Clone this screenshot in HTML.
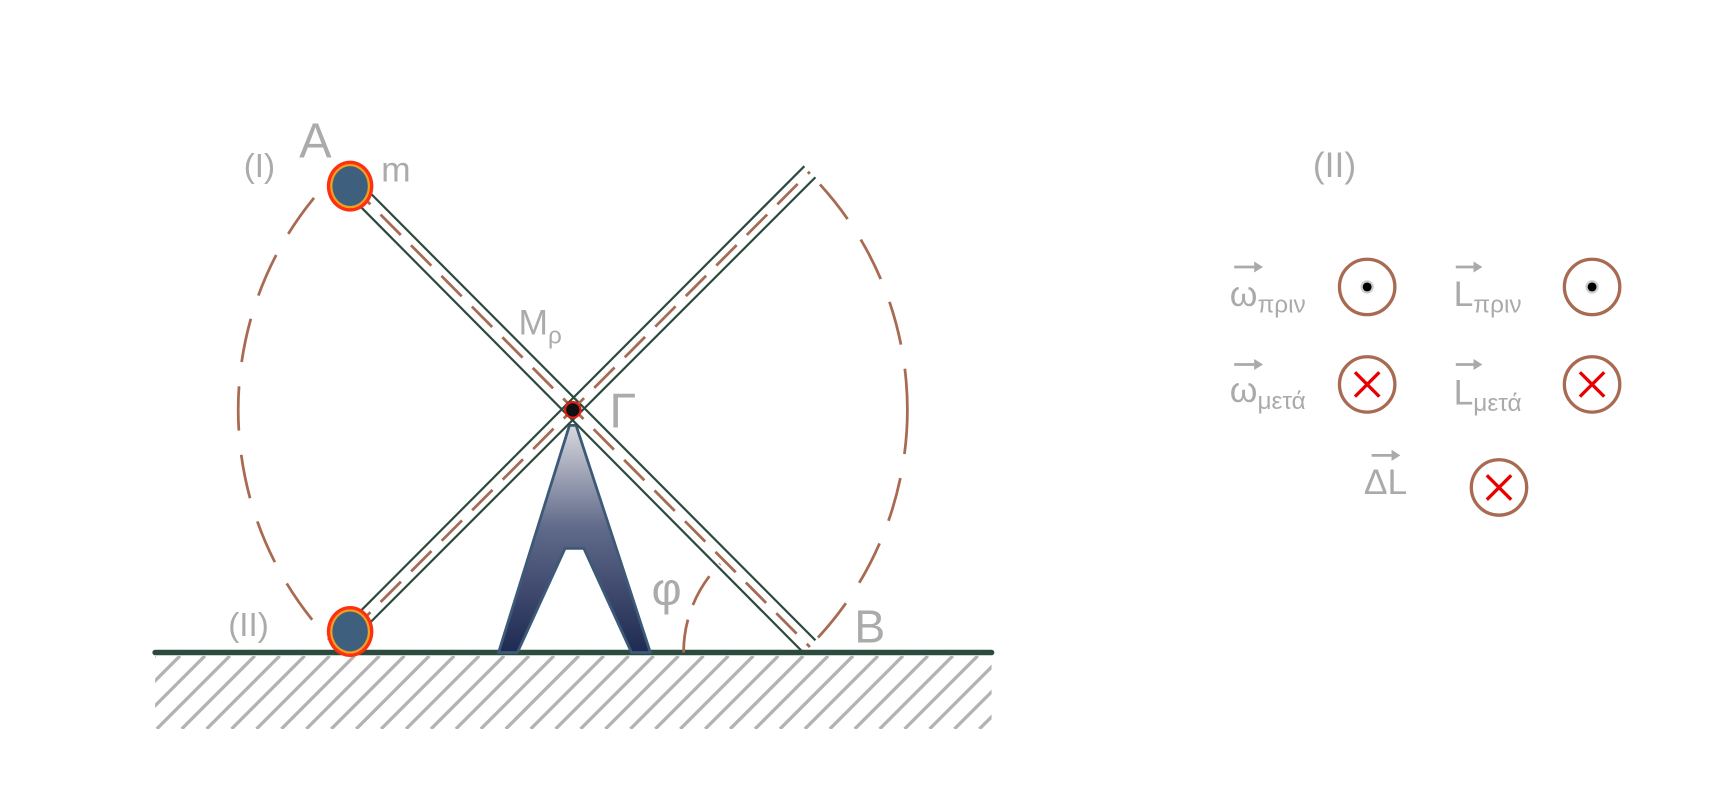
<!DOCTYPE html>
<html><head><meta charset="utf-8"><style>
html,body{margin:0;padding:0;background:#fff;}
svg{display:block;font-family:"Liberation Sans Narrow","Liberation Sans",sans-serif;}
.lbl{fill:#ababab;}
</style></head><body>
<svg width="1735" height="795" viewBox="0 0 1566 717.6" preserveAspectRatio="none" xmlns="http://www.w3.org/2000/svg">
<defs>
<linearGradient id="sg" x1="0" y1="0" x2="0" y2="1">
<stop offset="0" stop-color="#d8d8de"/><stop offset="0.45" stop-color="#606a8a"/><stop offset="1" stop-color="#1f2a52"/>
</linearGradient>
<clipPath id="hc"><rect x="140" y="592" width="755" height="66"/></clipPath>
<clipPath id="lc"><rect x="0" y="0" width="303" height="717"/><rect x="730" y="0" width="300" height="717"/></clipPath>
</defs>

<g clip-path="url(#hc)" stroke="#b3b3b3" stroke-width="3">
<g id="hatch"></g>
</g>
<line x1="140" y1="589" x2="895" y2="589" stroke="#2d4a3e" stroke-width="5" stroke-linecap="round"/>

<circle cx="517" cy="370" r="302" fill="none" stroke="#a86a52" stroke-width="2.5" stroke-dasharray="40 22" clip-path="url(#lc)"/>

<path d="M617 589 A113 113 0 0 1 650 509" fill="none" stroke="#a86a52" stroke-width="2.5" stroke-dasharray="30 14"/>

<path d="M514 384 L520 384 L587 589 L570 589 L527 495 L510 495 L467 589 L450 589 Z" fill="url(#sg)" stroke="#3c5a78" stroke-width="2.5"/>

<g fill="none">
<line x1="320" y1="160" x2="736" y2="578" stroke="#2d4a3e" stroke-width="2"/>
<line x1="311" y1="172" x2="726" y2="590" stroke="#2d4a3e" stroke-width="2"/>
<line x1="316" y1="166" x2="731" y2="584" stroke="#a86a52" stroke-width="2.5" stroke-dasharray="26 13"/>
</g>
<g fill="none">
<line x1="311" y1="566" x2="726" y2="150" stroke="#2d4a3e" stroke-width="2"/>
<line x1="320" y1="576" x2="736" y2="160" stroke="#2d4a3e" stroke-width="2"/>
<line x1="316" y1="571" x2="731" y2="155" stroke="#a86a52" stroke-width="2.5" stroke-dasharray="26 13"/>
</g>
<circle cx="517" cy="370" r="7" fill="#111" stroke="#e02010" stroke-width="2"/>

<g>
<ellipse cx="316" cy="168" rx="21" ry="23" fill="#ff3010"/><ellipse cx="316" cy="168" rx="18" ry="20" fill="#f0a020"/><ellipse cx="316" cy="168" rx="16" ry="18" fill="#3f5f7f"/>
</g>
<g>
<ellipse cx="316" cy="570" rx="21" ry="23" fill="#ff3010"/><ellipse cx="316" cy="570" rx="18" ry="20" fill="#f0a020"/><ellipse cx="316" cy="570" rx="16" ry="18" fill="#3f5f7f"/>
</g>

<text class="lbl" x="270" y="142" font-size="44">A</text>
<text class="lbl" x="344" y="164" font-size="32">m</text>
<text class="lbl" x="220" y="160" font-size="30">(I)</text>
<text class="lbl" x="206" y="574" font-size="30">(II)</text>
<text class="lbl" x="468" y="302" font-size="32">M<tspan font-size="22" dy="8">ρ</tspan></text>
<text class="lbl" x="550" y="386" font-size="44">Γ</text>
<text class="lbl" x="588" y="546" font-size="42">φ</text>
<text class="lbl" x="771" y="580" font-size="42">B</text>
<text class="lbl" x="1185" y="160" font-size="32">(II)</text>

<g stroke="#aaa" stroke-width="2.5" fill="#aaa">
<g>
<line x1="1114" y1="241" x2="1132" y2="241"/><path d="M1132 236 L1140 241 L1132 246Z" stroke="none"/>
<text x="1110" y="276" font-size="32" stroke="none">ω<tspan font-size="22" dy="6">πριν</tspan></text></g>
<g>
<line x1="1314" y1="241" x2="1330" y2="241"/><path d="M1330 236 L1338 241 L1330 246Z" stroke="none"/>
<text x="1312" y="276" font-size="32" stroke="none">L<tspan font-size="22" dy="6">πριν</tspan></text></g>
<g>
<line x1="1114" y1="329" x2="1132" y2="329"/><path d="M1132 324 L1140 329 L1132 334Z" stroke="none"/>
<text x="1110" y="363" font-size="32" stroke="none">ω<tspan font-size="22" dy="6">μετά</tspan></text></g>
<g>
<line x1="1314" y1="329" x2="1330" y2="329"/><path d="M1330 324 L1338 329 L1330 334Z" stroke="none"/>
<text x="1312" y="365" font-size="32" stroke="none">L<tspan font-size="22" dy="6">μετά</tspan></text></g>
<g>
<line x1="1238" y1="411" x2="1256" y2="411"/><path d="M1256 406 L1264 411 L1256 416Z" stroke="none"/>
<text x="1231" y="446" font-size="32" stroke="none">ΔL</text></g>
</g>

<g><circle cx="1234" cy="259" r="25" fill="#fff" stroke="#a86a52" stroke-width="3"/><circle cx="1234" cy="259" r="6" fill="#ccc"/><circle cx="1234" cy="259" r="4" fill="#000"/></g>
<g><circle cx="1437" cy="259" r="25" fill="#fff" stroke="#a86a52" stroke-width="3"/><circle cx="1437" cy="259" r="6" fill="#ccc"/><circle cx="1437" cy="259" r="4" fill="#000"/></g>
<g><circle cx="1234" cy="347" r="25" fill="#fff" stroke="#a86a52" stroke-width="3"/><path d="M1223 336 L1245 358 M1245 336 L1223 358" stroke="#e80000" stroke-width="3"/></g>
<g><circle cx="1437" cy="347" r="25" fill="#fff" stroke="#a86a52" stroke-width="3"/><path d="M1426 336 L1448 358 M1448 336 L1426 358" stroke="#e80000" stroke-width="3"/></g>
<g><circle cx="1353" cy="440" r="25" fill="#fff" stroke="#a86a52" stroke-width="3"/><path d="M1342 429 L1364 451 M1364 429 L1342 451" stroke="#e80000" stroke-width="3"/></g>
</svg>
<script>
var g=document.getElementById('hatch');
for(var x=140;x<=960;x+=22.5){
  var l=document.createElementNS('http://www.w3.org/2000/svg','line');
  l.setAttribute('x1',x-66);l.setAttribute('y1',658);l.setAttribute('x2',x);l.setAttribute('y2',592);
  
  
  g.appendChild(l);
}
</script>
</body></html>
